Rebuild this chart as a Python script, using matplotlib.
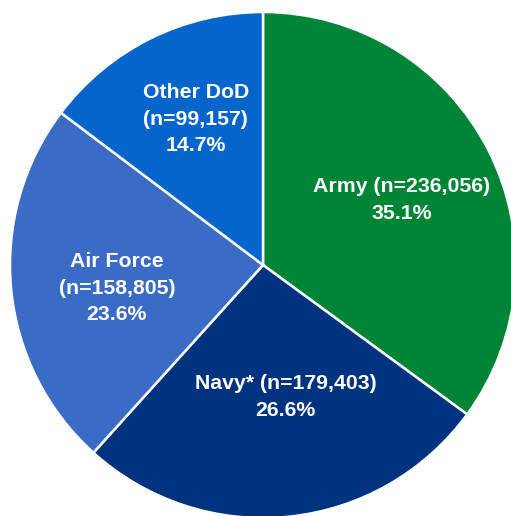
import numpy as np
import matplotlib
matplotlib.use("Agg")
import matplotlib.pyplot as plt

plt.rcParams['font.family'] = ['Liberation Sans', 'DejaVu Sans']

categories = ["Army", "Navy*", "Air Force", "Other DoD"]
counts = [236056, 179403, 158805, 99157]
pct_labels = ["35.1%", "26.6%", "23.6%", "14.7%"]
colors = ["#008537", "#00337F", "#3A6CC5", "#0565CD"]

W, H, DPI = 511, 516, 100
fig = plt.figure(figsize=(W / DPI, H / DPI), dpi=DPI)
ax = fig.add_axes([0, 0, 1, 1])

wedges, _ = ax.pie(counts, colors=colors, startangle=90, counterclock=False,
                   radius=1.0, wedgeprops=dict(edgecolor="white", linewidth=1.8))

# map pie so that centre sits at pixel (263,265) with radius 253 px
cx, cy, R = 263, 265, 253
ax.set_xlim(-cx / R, (W - cx) / R)
ax.set_ylim(-(H - cy) / R, cy / R)
ax.set_aspect('auto')
ax.axis('off')

texts = [
    f"Army (n={counts[0]:,})\n{pct_labels[0]}",
    f"Navy* (n={counts[1]:,})\n{pct_labels[1]}",
    f"Air Force\n(n={counts[2]:,})\n{pct_labels[2]}",
    f"Other DoD\n(n={counts[3]:,})\n{pct_labels[3]}",
]
dists = [0.605, 0.53, 0.585, 0.635]
angle_adj = [-1.8, 3.8, 3.5, -1.8]
for w, t, d, a in zip(wedges, texts, dists, angle_adj):
    ang = np.deg2rad((w.theta1 + w.theta2) / 2 + a)
    ax.text(d * np.cos(ang), d * np.sin(ang), t, ha='center', va='center',
            color='white', fontsize=15.3, fontweight='bold', linespacing=1.5)

fig.savefig("out.png", dpi=DPI)
